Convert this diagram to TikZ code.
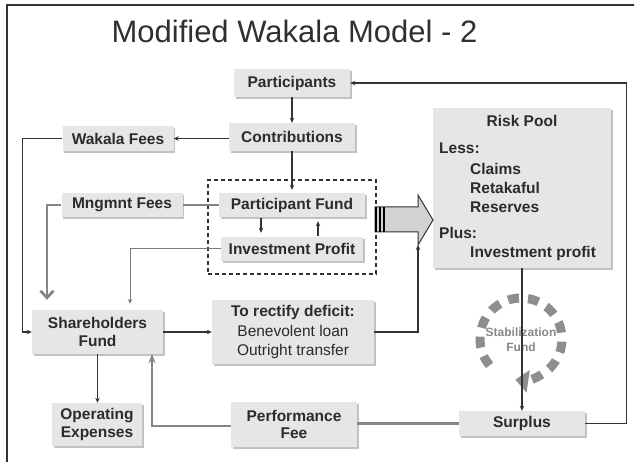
\documentclass[tikz,border=0pt]{standalone}
\usepackage{fontspec}
\setmainfont{Liberation Sans}
\usetikzlibrary{arrows.meta,shadows,calc}

\definecolor{boxfill}{HTML}{E6E6E6}
\definecolor{shade}{HTML}{C2C2C2}
\definecolor{txt}{HTML}{2B2B2B}
\definecolor{lineclr}{HTML}{333333}
\definecolor{fatclr}{HTML}{858585}
\definecolor{thinclr}{HTML}{7A7A7A}
\definecolor{ringclr}{HTML}{8E8E8E}
\definecolor{ringtxt}{HTML}{888888}
\definecolor{arrowfill}{HTML}{D2D2D2}
\definecolor{titleclr}{HTML}{303030}

\begin{document}
\begin{tikzpicture}[x=1pt,y=-1pt,
  box/.style={fill=boxfill, draw=none, text=txt, inner sep=0pt, align=center,
    font=\fontsize{15.5}{18}\selectfont\bfseries,
    drop shadow={shadow xshift=1.6pt, shadow yshift=-1.6pt, fill=shade, opacity=1}},
  rptext/.style={text=txt, inner sep=0pt, anchor=base west,
    font=\fontsize{15.5}{18}\selectfont\bfseries},
  conn/.style={draw=lineclr, line width=1.1pt, -{Stealth[length=5pt,width=4.5pt]}},
  fat/.style={draw=fatclr, line width=2.8pt},
]
\useasboundingbox (0,0) rectangle (634,462);

% frame
\draw[lineclr, line width=1.4pt] (634,5) -- (7,5) -- (7,462);

% title
\node[font=\fontsize{31}{36}\selectfont, text=titleclr, anchor=base, inner sep=0pt]
  (title) at (294.5,42.3) {Modified Wakala Model - 2};

% boxes
\node[box, minimum width=116pt, minimum height=28pt] (part)  at (292,83)    {Participants};
\node[box, minimum width=126pt, minimum height=28pt] (contr) at (292,137)   {Contributions};
\node[box, minimum width=111pt, minimum height=25pt] (wak)   at (118,138.5) {Wakala Fees};
\node[box, minimum width=121pt, minimum height=24pt] (mng)   at (122,205)   {Mngmnt Fees};
\node[box, minimum width=146pt, minimum height=24pt] (pf)    at (292,205)   {Participant Fund};
\node[box, minimum width=142pt, minimum height=24pt] (ip)    at (292,249)   {Investment Profit};
\node[draw=lineclr, line width=1.1pt, dash pattern=on 4pt off 3pt,
      minimum width=168pt, minimum height=94pt, inner sep=0pt] (fundgrp) at (292,227) {};

\node[box, minimum width=131pt, minimum height=44pt] (sh)    at (97.5,332)  {Shareholders\\Fund};
\node[box, minimum width=162pt, minimum height=64pt,
      font=\fontsize{15.5}{19.5}\selectfont\bfseries] (rect) at (293,332)
      {To rectify deficit:\\{\mdseries Benevolent loan}\\{\mdseries Outright transfer}};
\node[box, minimum width=90pt,  minimum height=43pt, font=\fontsize{15.5}{17.5}\selectfont\bfseries]
      (opex)  at (97,424.5)  {Operating\\Expenses};
\node[box, minimum width=126pt, minimum height=45pt, font=\fontsize{15.5}{17.5}\selectfont\bfseries]
      (perf)  at (294,424.5) {Performance\\Fee};
\node[box, minimum width=126pt, minimum height=25pt] (surp)  at (522,423.5) {Surplus};

% risk pool
\node[box, minimum width=178pt, minimum height=160pt] (rp) at (522,188) {};
\node[rptext, anchor=base] (rptitle) at (522,127) {Risk Pool};
\node[rptext] (rpless)   at (439,154) {Less:};
\node[rptext] (rpclaims) at (470,175) {Claims};
\node[rptext] (rpretak)  at (470,194) {Retakaful};
\node[rptext] (rpres)    at (470,213) {Reserves};
\node[rptext] (rpplus)   at (439,238.5) {Plus:};
\node[rptext] (rpinv)    at (470,258) {Investment profit};

% block arrow into the risk pool
\draw[draw=lineclr, fill=arrowfill, line width=1pt, line join=miter]
  (375,207) -- (418,207) -- (418,195) -- (433,220) -- (418,245) -- (418,232) -- (375,232) -- cycle;
\fill[black] (375,207) rectangle (377,232);
\fill[black] (378.6,207) rectangle (381,232);
\fill[black] (382.6,207) rectangle (385,232);
\coordinate (headB) at (418,245);

% stabilization fund ring
\draw[ringclr, line width=9pt, dash pattern=on 11pt off 9pt,
      -{Triangle[length=13pt,width=22pt]}]
  ([shift={(140:41)}]521,339) arc[start angle=140, end angle=458, radius=41];
\node[font=\fontsize{12}{15}\selectfont\bfseries, text=ringtxt, align=center, inner sep=0pt]
  (stab) at (521,340) {Stabilization\\Fund};

% connectors
\draw[conn] (part.south) -- (contr.north);
\draw[conn] (contr.west|-wak) -- (wak.east);
\draw[conn, shorten >=3pt] (contr.south) -- (pf.north);
\draw[conn, shorten >=4pt, shorten <=1pt] ([xshift=-31pt]pf.south) -- ([xshift=-31pt]ip.north);
\draw[conn, shorten >=4pt, shorten <=1pt] ([xshift=26pt]ip.north) -- ([xshift=26pt]pf.south);
\draw[fat] (pf.west) -- (mng.east);
\draw[fat, -{Straight Barb[length=7pt,width=13pt]}] (mng.west) -| ([xshift=-50.5pt,yshift=10pt]sh.north);
\draw[conn] (wak.west) -| ([xshift=-9pt]sh.west|-wak) |- (sh.west);
\draw[draw=thinclr, line width=1pt, -{Stealth[length=5pt,width=4.5pt]}, shorten >=6pt]
  (ip.west) -| ([xshift=32.5pt]sh.north);
\draw[conn] (sh.east) -- (rect.west);
\draw[conn] (rect.east) -| (headB);
\draw[conn] (sh.south) -- (sh.south|-opex.north);
\draw[fat, -{Stealth[length=9pt,width=7pt]}] ([yshift=-1.5pt]perf.west) -| ([xshift=54.5pt]sh.south);
\draw[fat] (surp.west) -- (surp.west-|perf.east);
\draw[conn] (rp.south) -- (surp.north);
\draw[conn] (surp.east) -| ([xshift=276pt]part.east) -- (part.east);
\end{tikzpicture}
\end{document}
